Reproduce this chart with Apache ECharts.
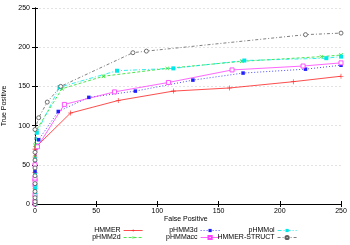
<!DOCTYPE html>
<html><head><meta charset="utf-8">
<script src="https://cdn.jsdelivr.net/npm/echarts@6/dist/echarts.min.js"></script>
<style>html,body{margin:0;padding:0;background:#fff}#c{width:350px;height:245px}</style>
</head><body><div id="c"></div>
<script>
const xTicks = [0, 50, 100, 150, 200, 250];
const yTicks = [0, 50, 100, 150, 200, 250];
const names = ['HMMER', 'pHMM2d', 'pHMM3d', 'pHMMacc', 'pHMMol', 'HMMER-STRUCT'];

const hmmer = [[0,0],[0,5],[0,10],[0,20],[0,30],[0,40],[0,50],[0,60],[0,70],[1,73],[29,116],[68,132],[113,144],[159,148],[211,156],[250,163]];
const phmm2d = [[0,0],[0,5],[0,12],[0,20],[0,30],[0,40],[0,50],[0,60],[0,75],[1,94],[22,147],[56,163],[108,173],[169,182],[234,188],[250,190]];
const phmm3d = [[0,0],[0,6],[0,14],[0,22],[0,32],[0,42],[0,56],[3,82],[19,118],[44,136],[82,144],[129,158],[170,167],[221,172],[250,177]];
const phmmacc = [[0,0],[0,4],[0,12],[0,24],[0,30],[0,33],[0,50],[2,73],[24,127],[65,143],[109,155],[161,171],[219,176],[250,180]];
const phmmol = [[0,0],[0,8],[0,15],[0,20],[0,25],[0,37],[0,57],[1.5,91],[20,149],[67,170],[113,173],[171,183],[238,186],[250,188]];
const hmmerStruct = [[0,0],[0,3],[0,8],[0,16],[0,26],[0,36],[0,46],[0,56],[0,66],[0,95],[3,110],[10,130],[21,150],[80,193],[91,195],[221,216],[250,218]];

const plusPath = 'path://M4.4,0h1.2v10h-1.2z M0,4.4h10v1.2h-10z';
const chart = echarts.init(document.getElementById('c'), null, {renderer: 'canvas'});
const FONT = 'Liberation Sans';
function mk(name, data, color, type, symbol, size, filled, rot) {
  return {
    name, type: 'line', data, showSymbol: true, symbol, symbolSize: size, symbolRotate: rot || 0,
    animation: false, clip: false, color,
    lineStyle: {color, width: 0.8, type},
    itemStyle: filled ? {color, borderColor: color, borderWidth: 0} : {color: '#fff', borderColor: color, borderWidth: 0.9},
    emphasis: {disabled: true}
  };
}
const series = [
  mk('HMMER', hmmer, '#ff2020', 'solid', plusPath, 5, true),
  mk('pHMM2d', phmm2d, '#20e020', [3, 2], plusPath, 5, true, 45),
  mk('pHMM3d', phmm3d, '#2020ff', [1, 2], 'rect', 3.5, true),
  mk('pHMMacc', phmmacc, '#ff40ff', 'solid', 'rect', 4, false),
  mk('pHMMol', phmmol, '#00e8e8', [4, 2, 1, 2], 'rect', 4, true),
  mk('HMMER-STRUCT', hmmerStruct, '#606060', [3, 2, 1, 2], 'circle', 4, false)
];
const colRight = [207, 130, 53];
const rowTop = [227, 234];
const legends = names.map((n, i) => {
  const col = [0, 0, 1, 1, 2, 2][i];
  const row = i % 2;
  return {
    data: [n], right: colRight[col], top: rowTop[row], orient: 'horizontal', align: 'right',
    padding: 0, itemWidth: 19, itemHeight: 4, itemGap: 0, selectedMode: false,
    lineStyle: {width: 0.8},
    textStyle: {fontFamily: FONT, fontSize: 7, color: '#000', padding: [0, -2, 0, 0]}
  };
});
const tickAxis = {
  min: 0, max: 250, interval: 50, type: 'value',
  axisLine: {show: true, lineStyle: {color: '#000', width: 1}},
  axisTick: {show: true, inside: true, length: 3, lineStyle: {color: '#000', width: 1}},
  axisLabel: {show: false}, splitLine: {show: false}
};
chart.setOption({
  animation: false,
  backgroundColor: '#fff',
  grid: {left: 35, right: 9, top: 8, bottom: 41, containLabel: false, outerBoundsMode: 'none'},
  legend: legends,
  xAxis: [
    Object.assign({}, tickAxis, {position: 'bottom',
      axisLabel: {show: true, fontFamily: FONT, fontSize: 7, color: '#000', margin: 4,
        formatter: v => xTicks.includes(v) ? String(v) : ''}}),
    Object.assign({}, tickAxis, {position: 'top'})
  ],
  yAxis: [
    Object.assign({}, tickAxis, {position: 'left',
      name: 'True Positive', nameLocation: 'middle', nameGap: 21,
      nameTextStyle: {fontFamily: FONT, fontSize: 7, color: '#000'},
      axisLabel: {show: true, fontFamily: FONT, fontSize: 7, color: '#000', margin: 5,
        formatter: v => yTicks.includes(v) ? String(v) : ''},
      splitLine: {show: true, lineStyle: {color: '#d8d8d8', width: 0.7, type: [2, 2]}}}),
    Object.assign({}, tickAxis, {position: 'right'})
  ],
  graphic: [{type: 'text', left: 164, top: 216, style: {text: 'False Positive', font: '7px "Liberation Sans"', fill: '#000'}}],
  series
});
</script></body></html>
